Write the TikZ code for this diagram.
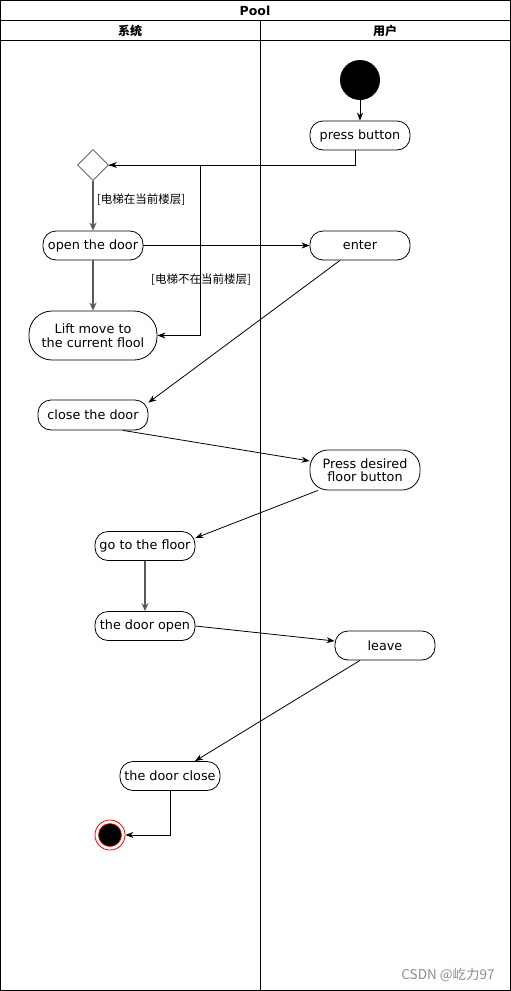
\documentclass[tikz,border=0pt]{standalone}
\usepackage{fontspec}
\setmainfont{DejaVu Sans}
\newfontfamily\cjk{Noto Sans CJK SC}
\usetikzlibrary{shapes.geometric,arrows.meta,calc}
\tikzset{
  act/.style={draw, rectangle, inner sep=0pt, align=center, font=\fontsize{12.8}{14.5}\selectfont, line width=0.8pt},
  arr/.style={draw, line width=0.8pt, -{Stealth[length=8pt,width=6pt]}},
  garr/.style={draw=black!65, line width=1.4pt, -{Stealth[length=8pt,width=7pt]}},
  lbl/.style={font=\cjk\fontsize{11.5}{13}\selectfont, inner sep=0pt},
  frame/.style={line width=1pt}
}
\begin{document}
\begin{tikzpicture}[x=1pt,y=-1pt]
\useasboundingbox (0,0) rectangle (511,991);
% swimlane frame
\draw[frame] (0.5,0.5) rectangle (510.5,990.5);
\draw[frame] (0.5,20.5) -- (510.5,20.5);
\draw[frame] (0.5,40.5) -- (510.5,40.5);
\draw[frame] (260.5,20.5) -- (260.5,990.5);
\node[font=\bfseries\fontsize{12.5}{14}\selectfont] (title) at (255,11) {Pool};
\node[font=\cjk\bfseries\fontsize{12}{13}\selectfont] (sys) at (130,30.5) {系统};
\node[font=\cjk\bfseries\fontsize{12}{13}\selectfont] (usr) at (385,30.5) {用户};
% nodes
\node[circle, fill=black, minimum size=40pt, inner sep=0pt] (start) at (360,80) {};
\node[act, minimum width=100pt, minimum height=29pt, rounded corners=13pt] (press) at (360,135.5) {press button};
\node[diamond, draw=black!70, line width=0.8pt, minimum size=31pt, inner sep=0pt, aspect=1] (dia) at (93,165) {};
\node[act, minimum width=100pt, minimum height=29pt, rounded corners=13pt] (open) at (93,245.5) {open the door};
\node[act, minimum width=100pt, minimum height=29pt, rounded corners=13pt] (enter) at (360,245.5) {enter};
\node[act, minimum width=128pt, minimum height=49pt, rounded corners=23pt] (lift) at (93,335.5) {Lift move to\\the current flool};
\node[act, minimum width=110pt, minimum height=30pt, rounded corners=13pt] (close) at (93,415) {close the door};
\node[act, minimum width=110pt, minimum height=40pt, rounded corners=18pt, font=\fontsize{12.8}{13.5}\selectfont] (pdes) at (365,470) {Press desired\\floor button};
\node[act, minimum width=100pt, minimum height=29pt, rounded corners=13pt] (go) at (145,546) {go to the floor};
\node[act, minimum width=100pt, minimum height=29pt, rounded corners=13pt] (dopen) at (145,626) {the door open};
\node[act, minimum width=100pt, minimum height=29pt, rounded corners=13pt] (leave) at (385,645.5) {leave};
\node[act, minimum width=100pt, minimum height=29pt, rounded corners=13pt] (dclose) at (170,776) {the door close};
\node[circle, draw=red, fill=white, line width=0.8pt, minimum size=30pt, inner sep=0pt] (end) at (110,835) {};
\node[circle, draw=red, fill=black, line width=0.6pt, minimum size=23pt, inner sep=0pt] (endin) at (110,835) {};
% labels
\node[lbl] (l1) at (141,200) {[电梯在当前楼层]};
\node[lbl] (l2) at (201,280) {[电梯不在当前楼层]};
% connectors
\coordinate (b1) at (200.5,165);
\draw[arr] (start) -- (press);
\draw[arr] ([xshift=-5pt]press.south) |- (dia.east);
\draw[arr] (dia.east) -- (b1) |- (lift.east);
\draw[garr] (dia.south) -- (open.north);
\draw[garr] (open.south) -- (lift.north);
\draw[arr] (open.east) -- (enter.west);
\draw[arr] ([xshift=-20pt]enter.south) -- ([yshift=-3pt]close.north east);
\draw[arr] ([xshift=30pt]close.south) -- ([yshift=9pt]pdes.west);
\draw[arr] ([xshift=-47pt]pdes.south) -- ([yshift=8pt]go.east);
\draw[garr] (go.south) -- (dopen.north);
\draw[arr] (dopen.east) -- ([yshift=4.5pt]leave.west);
\draw[arr] ([xshift=-25pt]leave.south) -- ([xshift=25pt]dclose.north);
\draw[arr] (dclose.south) |- (end.east);
% watermark
\node[font=\cjk\fontsize{13.5}{15}\selectfont, text=black!45] (wm) at (448,975) {CSDN @屹力97};
\end{tikzpicture}
\end{document}
